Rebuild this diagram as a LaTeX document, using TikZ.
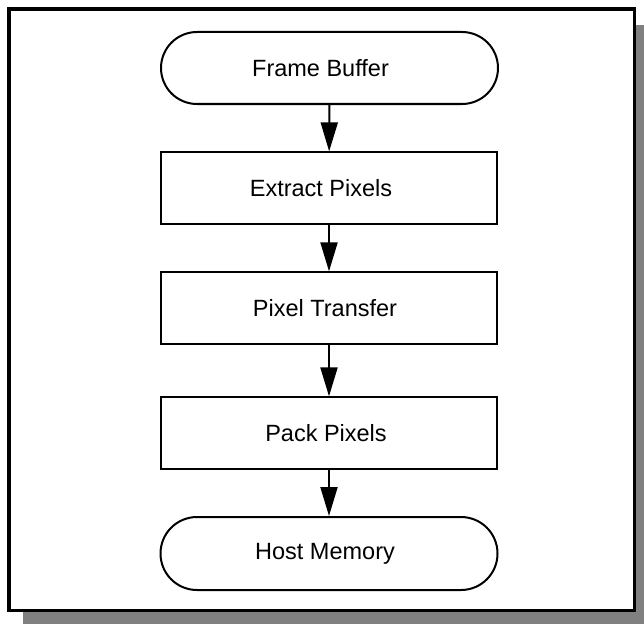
\documentclass[tikz,border=0pt]{standalone}
\usepackage{fontspec}
\setmainfont{Liberation Sans}
\usetikzlibrary{arrows.meta,shapes.misc}
\definecolor{shadowgray}{RGB}{128,128,128}
\tikzset{
  stagefont/.style={font=\fontsize{23.5}{28}\selectfont},
  terminal/.style={rounded rectangle, draw, line width=2pt, fill=white,
    minimum width=337pt, minimum height=72pt, inner sep=0pt},
  process/.style={rectangle, draw, line width=1.3pt, fill=white,
    minimum width=336pt, minimum height=72pt, inner sep=0pt},
  flow/.style={line width=2pt, -{Triangle[length=29pt,width=17pt]}}
}
\begin{document}
\begin{tikzpicture}[x=1pt,y=-1pt]
  \useasboundingbox (0,0) rectangle (644,623);
  % drop shadow and outer frame
  \fill[shadowgray] (23,25) rectangle (660,640);
  \draw[line width=3.3pt, fill=white] (9,9) rectangle (634.3,610.7);
  % pipeline stages (labels sit slightly left of the box centres)
  \node[terminal, label={[stagefont, xshift=-9pt]center:Frame Buffer}]
    (fb) at (329.5,68) {};
  \node[process, label={[stagefont, xshift=-8pt]center:Extract Pixels}]
    (ext) at (329,188) {};
  \node[process, label={[stagefont, xshift=-4pt]center:Pixel Transfer}]
    (xfer) at (329,308) {};
  \node[process, label={[stagefont, xshift=-3pt]center:Pack Pixels}]
    (pack) at (329,433) {};
  \node[terminal, minimum height=73pt,
        label={[stagefont, xshift=-4pt]center:Host Memory}]
    (host) at (329,553.5) {};
  % connectors
  \draw[flow] (fb)   -- (ext);
  \draw[flow] (ext)  -- (xfer);
  \draw[flow] (xfer) -- (pack);
  \draw[flow] (pack) -- (host);
\end{tikzpicture}
\end{document}
